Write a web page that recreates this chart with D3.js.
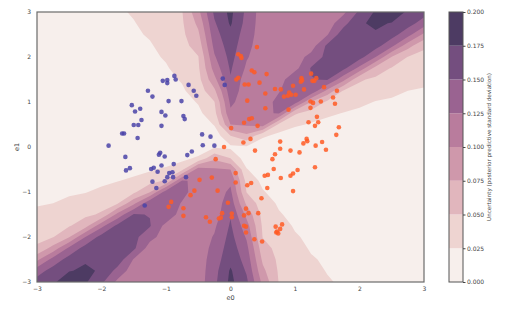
<!DOCTYPE html>
<html>
<head>
<meta charset="utf-8">
<script src="https://cdn.jsdelivr.net/npm/d3@7"></script>
<style>
  body { margin: 0; background: #fff; }
  text { font-family: "DejaVu Sans", sans-serif; fill: #444; }
</style>
</head>
<body>
<div id="chart"></div>
<script>
// grid where the uncertainty was evaluated
var gridX = [-3, -2.75, -2.5, -2.25, -2, -1.75, -1.5, -1.25, -1, -0.75, -0.5, -0.25, 0,
             0.25, 0.5, 0.75, 1, 1.25, 1.5, 1.75, 2, 2.25, 2.5, 2.75, 3];
var gridY = [3, 2.75, 2.5, 2.25, 2, 1.75, 1.5, 1.25, 1, 0.75, 0.5, 0.25, 0,
             -0.25, -0.5, -0.75, -1, -1.25, -1.5, -1.75, -2, -2.25, -2.5, -2.75, -3];

// posterior predictive std, one row per gridY value (top to bottom)
var uncertainty = [
  [0.005,0.008,0.012,0.015,0.019,0.022,0.027,0.034,0.042,0.049,0.093,0.155,0.181,0.144,0.112,0.112,0.112,0.112,0.112,0.119,0.155,0.178,0.187,0.172,0.160],
  [0.005,0.005,0.009,0.013,0.016,0.020,0.024,0.031,0.039,0.047,0.081,0.147,0.178,0.141,0.112,0.112,0.112,0.112,0.112,0.141,0.173,0.178,0.174,0.160,0.139],
  [0.005,0.005,0.005,0.009,0.013,0.017,0.022,0.027,0.036,0.045,0.070,0.140,0.168,0.137,0.112,0.112,0.112,0.112,0.123,0.165,0.169,0.173,0.160,0.135,0.094],
  [0.005,0.005,0.005,0.005,0.010,0.014,0.019,0.023,0.032,0.042,0.060,0.132,0.163,0.132,0.112,0.112,0.112,0.113,0.155,0.162,0.165,0.160,0.131,0.085,0.053],
  [0.005,0.005,0.005,0.005,0.005,0.010,0.015,0.021,0.027,0.038,0.049,0.122,0.158,0.127,0.112,0.112,0.112,0.134,0.157,0.159,0.160,0.125,0.074,0.049,0.045],
  [0.005,0.005,0.005,0.005,0.005,0.005,0.011,0.017,0.023,0.033,0.046,0.110,0.153,0.121,0.112,0.112,0.117,0.152,0.154,0.157,0.117,0.065,0.048,0.043,0.039],
  [0.005,0.005,0.005,0.005,0.005,0.005,0.005,0.012,0.019,0.027,0.042,0.093,0.148,0.112,0.112,0.112,0.146,0.149,0.152,0.108,0.053,0.045,0.040,0.035,0.030],
  [0.005,0.005,0.005,0.005,0.005,0.005,0.005,0.005,0.013,0.022,0.036,0.070,0.139,0.112,0.112,0.123,0.142,0.145,0.094,0.048,0.042,0.036,0.030,0.025,0.023],
  [0.005,0.005,0.005,0.005,0.005,0.005,0.005,0.005,0.005,0.015,0.027,0.049,0.130,0.112,0.112,0.133,0.137,0.074,0.045,0.038,0.030,0.024,0.022,0.020,0.017],
  [0.005,0.005,0.005,0.005,0.005,0.005,0.005,0.005,0.005,0.005,0.019,0.042,0.120,0.112,0.121,0.127,0.053,0.040,0.030,0.024,0.020,0.017,0.014,0.011,0.008],
  [0.005,0.005,0.005,0.005,0.005,0.005,0.005,0.005,0.005,0.005,0.005,0.027,0.100,0.104,0.113,0.045,0.030,0.022,0.017,0.013,0.008,0.007,0.007,0.006,0.006],
  [0.005,0.005,0.005,0.005,0.005,0.005,0.005,0.005,0.005,0.005,0.005,0.010,0.050,0.070,0.030,0.017,0.008,0.007,0.006,0.006,0.006,0.006,0.006,0.006,0.006],
  [0.005,0.005,0.005,0.005,0.005,0.005,0.005,0.005,0.005,0.005,0.006,0.022,0.020,0.022,0.006,0.005,0.005,0.005,0.005,0.005,0.005,0.005,0.005,0.005,0.005],
  [0.006,0.006,0.006,0.006,0.006,0.006,0.006,0.007,0.008,0.017,0.030,0.070,0.050,0.010,0.005,0.005,0.005,0.005,0.005,0.005,0.005,0.005,0.005,0.005,0.005],
  [0.006,0.006,0.007,0.007,0.008,0.013,0.017,0.022,0.030,0.045,0.113,0.104,0.100,0.027,0.005,0.005,0.005,0.005,0.005,0.005,0.005,0.005,0.005,0.005,0.005],
  [0.008,0.011,0.014,0.017,0.020,0.024,0.030,0.040,0.053,0.127,0.121,0.112,0.120,0.042,0.019,0.005,0.005,0.005,0.005,0.005,0.005,0.005,0.005,0.005,0.005],
  [0.017,0.020,0.022,0.024,0.030,0.038,0.045,0.074,0.137,0.133,0.112,0.112,0.130,0.049,0.027,0.015,0.005,0.005,0.005,0.005,0.005,0.005,0.005,0.005,0.005],
  [0.023,0.025,0.030,0.036,0.042,0.048,0.094,0.145,0.142,0.123,0.112,0.112,0.139,0.070,0.036,0.022,0.013,0.005,0.005,0.005,0.005,0.005,0.005,0.005,0.005],
  [0.030,0.035,0.040,0.045,0.053,0.108,0.152,0.149,0.146,0.112,0.112,0.112,0.148,0.093,0.042,0.027,0.019,0.012,0.005,0.005,0.005,0.005,0.005,0.005,0.005],
  [0.039,0.043,0.048,0.065,0.117,0.157,0.154,0.152,0.117,0.112,0.112,0.121,0.153,0.110,0.046,0.033,0.023,0.017,0.011,0.005,0.005,0.005,0.005,0.005,0.005],
  [0.045,0.049,0.074,0.125,0.160,0.159,0.157,0.134,0.112,0.112,0.112,0.127,0.158,0.122,0.049,0.038,0.027,0.021,0.015,0.010,0.005,0.005,0.005,0.005,0.005],
  [0.053,0.085,0.131,0.160,0.165,0.162,0.155,0.113,0.112,0.112,0.112,0.132,0.163,0.132,0.060,0.042,0.032,0.023,0.019,0.014,0.010,0.005,0.005,0.005,0.005],
  [0.094,0.135,0.160,0.173,0.169,0.165,0.123,0.112,0.112,0.112,0.112,0.137,0.168,0.140,0.070,0.045,0.036,0.027,0.022,0.017,0.013,0.009,0.005,0.005,0.005],
  [0.139,0.160,0.174,0.178,0.173,0.141,0.112,0.112,0.112,0.112,0.112,0.141,0.178,0.147,0.081,0.047,0.039,0.031,0.024,0.020,0.016,0.013,0.009,0.005,0.005],
  [0.160,0.172,0.187,0.178,0.155,0.119,0.112,0.112,0.112,0.112,0.112,0.144,0.181,0.155,0.093,0.049,0.042,0.034,0.027,0.022,0.019,0.015,0.012,0.008,0.005]
];

var levels = [0, 0.025, 0.05, 0.075, 0.1, 0.125, 0.15, 0.175, 0.2];
var levelColors = ["#f7efec", "#eed4d1", "#e1b6bd", "#cf98ab", "#b97c9d", "#9a6391", "#744e7f", "#4d3b63"];

// test points, predicted class 0
var class0Points = [
  [-1.05,1.47],[-0.98,1.49],[-0.98,1.42],[-0.87,1.58],[-0.85,1.50],[-1.28,1.25],[-1.21,1.12],
  [-0.65,1.38],[-0.57,1.25],[-0.53,1.14],[-0.96,1.02],[-0.76,1.02],[-1.53,0.93],[-1.40,0.85],
  [-1.48,0.79],[-1.07,0.78],[-1.01,0.70],[-0.73,0.69],[-0.71,0.62],[-1.38,0.60],[-1.50,0.49],
  [-1.43,0.49],[-1.07,0.47],[-1.68,0.30],[-1.65,0.30],[-1.44,0.20],[-0.44,0.28],[-0.31,0.23],
  [-0.12,1.52],[-0.09,1.38],[-1.89,0.03],[-0.43,0.04],[-0.25,0.03],[-1.63,-0.22],[-1.62,-0.52],
  [-1.56,-0.47],[-1.11,-0.17],[-1.09,-0.13],[-1.02,-0.21],[-0.67,-0.18],[-0.60,-0.10],[-1.23,-0.49],
  [-1.19,-0.46],[-1.07,-0.41],[-0.88,-0.38],[-1.13,-0.55],[-0.95,-0.58],[-0.90,-0.56],[-0.98,-0.67],
  [-0.89,-0.67],[-0.69,-0.67],[-1.21,-0.77],[-1.02,-0.76],[-1.15,-0.91],[-1.33,-1.30]
];

// test points, predicted class 1
var class1Points = [
  [0.41,2.22],[0.12,2.06],[0.16,2.02],[0.17,1.98],[0.33,1.70],[0.37,1.66],[0.56,1.62],[0.12,1.54],
  [0.09,1.50],[0.22,1.39],[0.28,1.39],[0.45,1.43],[0.26,1.03],[0.54,1.19],[0.69,1.29],[0.78,1.28],
  [0.97,1.36],[0.83,1.12],[0.89,1.14],[0.91,1.21],[0.94,1.16],[1.01,1.16],[1.10,1.53],[1.09,1.45],
  [1.11,1.48],[1.25,1.63],[1.27,1.47],[1.33,1.53],[1.30,1.47],[1.14,1.28],[1.45,1.33],[1.65,1.25],
  [0.54,0.86],[0.90,0.83],[1.24,1.01],[1.28,0.98],[1.40,1.01],[1.24,0.87],[1.59,1.10],[1.62,0.96],
  [1.34,0.67],[1.36,0.55],[1.21,0.55],[1.31,0.47],[1.68,0.44],[1.64,0.27],[0.01,0.42],[0.21,0.54],
  [0.29,0.62],[0.33,0.64],[0.42,0.47],[0.31,0.18],[0.20,0.10],[1.18,0.18],
  [-0.10,0.00],[0.38,-0.08],[0.77,0.12],[0.77,-0.04],[1.13,0.08],[1.19,0.13],[1.32,0.03],[1.42,0.11],
  [1.48,-0.06],[0.93,-0.08],[1.07,-0.12],[0.69,-0.16],[0.65,-0.27],[0.67,-0.49],[0.53,-0.64],
  [0.58,-0.62],[0.78,-0.69],[0.93,-0.64],[0.97,-0.59],[1.04,-0.51],[1.31,-0.45],[0.97,-0.98],[0.57,-0.91],
  [-0.23,-0.27],[-0.48,-0.73],[-0.29,-0.68],[0.08,-0.58],[0.08,-0.79],[0.26,-0.85],[0.32,-0.80],
  [-0.56,-0.97],[-0.62,-1.07],[-0.20,-0.97],[0.48,-1.14],[-0.92,-1.22],[-0.96,-1.33],[-0.73,-1.36],
  [-0.73,-1.53],[-0.04,-1.24],[0.24,-1.37],[-0.13,-1.47],[0.02,-1.48],[0.02,-1.56],[0.21,-1.52],
  [0.28,-1.47],[0.43,-1.47],[-0.38,-1.56],[-0.18,-1.59],[-0.15,-1.57],[-0.32,-1.66],[0.24,-1.77],
  [0.21,-1.75],[0.24,-1.90],[0.37,-2.05],[0.49,-2.10],[0.70,-1.77],[0.80,-1.72],[0.77,-1.82],
  [0.72,-1.88],[0.74,-1.92],[0.71,-1.90]
];

var xTicks = [-3, -2, -1, 0, 1, 2, 3];
var yTicks = [-3, -2, -1, 0, 1, 2, 3];

// plot area
var svgWidth = 525;
var svgHeight = 310;
var plot = {left: 37, right: 424, top: 12, bottom: 282};
var bar = {left: 449, right: 463};

var svg = d3.select("#chart")
  .append("svg")
  .attr("width", svgWidth)
  .attr("height", svgHeight);

var x = d3.scaleLinear().domain([-3, 3]).range([plot.left, plot.right]);
var y = d3.scaleLinear().domain([-3, 3]).range([plot.bottom, plot.top]);

svg.append("clipPath")
  .attr("id", "plotClip")
  .append("rect")
  .attr("x", plot.left)
  .attr("y", plot.top)
  .attr("width", plot.right - plot.left)
  .attr("height", plot.bottom - plot.top);

// filled contours
var nx = gridX.length, ny = gridY.length;
var stepX = gridX[1] - gridX[0];
var stepY = gridY[1] - gridY[0];

var contours = d3.contours()
  .size([nx, ny])
  .thresholds(levels.slice(0, -1))(uncertainty.flat());

// contour coords: value index i sits at i + 0.5
var gridToPx = d3.geoTransform({
  point: function(cx, cy) {
    this.stream.point(x(gridX[0] + (cx - 0.5) * stepX), y(gridY[0] + (cy - 0.5) * stepY));
  }
});

svg.append("g")
  .attr("clip-path", "url(#plotClip)")
  .selectAll("path")
  .data(contours)
  .enter()
  .append("path")
  .attr("d", d3.geoPath(gridToPx))
  .attr("fill", (d, i) => levelColors[i]);

// scatter
svg.append("g")
  .selectAll("circle")
  .data(class0Points)
  .enter()
  .append("circle")
  .attr("cx", d => x(d[0]))
  .attr("cy", d => y(d[1]))
  .attr("r", 2.3)
  .attr("fill", "#4a43a8")
  .attr("opacity", 0.85);

svg.append("g")
  .selectAll("circle")
  .data(class1Points)
  .enter()
  .append("circle")
  .attr("cx", d => x(d[0]))
  .attr("cy", d => y(d[1]))
  .attr("r", 2.3)
  .attr("fill", "#ff5a24")
  .attr("opacity", 0.85);

// frame
svg.append("rect")
  .attr("x", plot.left)
  .attr("y", plot.top)
  .attr("width", plot.right - plot.left)
  .attr("height", plot.bottom - plot.top)
  .attr("fill", "none")
  .attr("stroke", "#6b6b6b")
  .attr("stroke-width", 1.2);

// axes (labels only)
var xAxis = svg.append("g")
  .attr("transform", `translate(0, ${plot.bottom})`)
  .call(d3.axisBottom(x).tickValues(xTicks).tickFormat(d3.format("d")).tickSize(0).tickPadding(5));
var yAxis = svg.append("g")
  .attr("transform", `translate(${plot.left}, 0)`)
  .call(d3.axisLeft(y).tickValues(yTicks).tickFormat(d3.format("d")).tickSize(0).tickPadding(6));

[xAxis, yAxis].forEach(function(a) {
  a.select(".domain").remove();
  a.attr("color", "#444");
  a.selectAll("text")
    .style("font-family", "DejaVu Sans")
    .style("font-size", "6px")
    .attr("fill", "#444");
});

svg.append("text")
  .attr("x", x(0))
  .attr("y", 300)
  .attr("text-anchor", "middle")
  .style("font-size", "6.5px")
  .text("e0");

svg.append("text")
  .attr("transform", `translate(19, ${y(0)}) rotate(-90)`)
  .attr("text-anchor", "middle")
  .style("font-size", "6.5px")
  .text("e1");

// colorbar
var cb = d3.scaleLinear().domain([0, 0.2]).range([plot.bottom, plot.top]);

svg.append("g")
  .selectAll("rect")
  .data(levelColors)
  .enter()
  .append("rect")
  .attr("x", bar.left)
  .attr("width", bar.right - bar.left)
  .attr("y", (d, i) => cb(levels[i + 1]))
  .attr("height", (d, i) => cb(levels[i]) - cb(levels[i + 1]))
  .attr("fill", d => d);

svg.append("rect")
  .attr("x", bar.left)
  .attr("y", plot.top)
  .attr("width", bar.right - bar.left)
  .attr("height", plot.bottom - plot.top)
  .attr("fill", "none")
  .attr("stroke", "#555")
  .attr("stroke-width", 1);

var cbAxis = svg.append("g")
  .attr("transform", `translate(${bar.right}, 0)`)
  .attr("color", "#444")
  .call(d3.axisRight(cb).tickValues(levels).tickFormat(d3.format(".3f")).tickSize(2.5).tickPadding(1.5));
cbAxis.select(".domain").remove();
cbAxis.selectAll("text")
  .style("font-family", "DejaVu Sans")
  .style("font-size", "6px")
  .attr("fill", "#444");

svg.append("text")
  .attr("transform", `translate(491, ${y(0)}) rotate(-90)`)
  .attr("text-anchor", "middle")
  .style("font-size", "5.6px")
  .text("Uncertainty (posterior predictive standard deviation)");
</script>
</body>
</html>
